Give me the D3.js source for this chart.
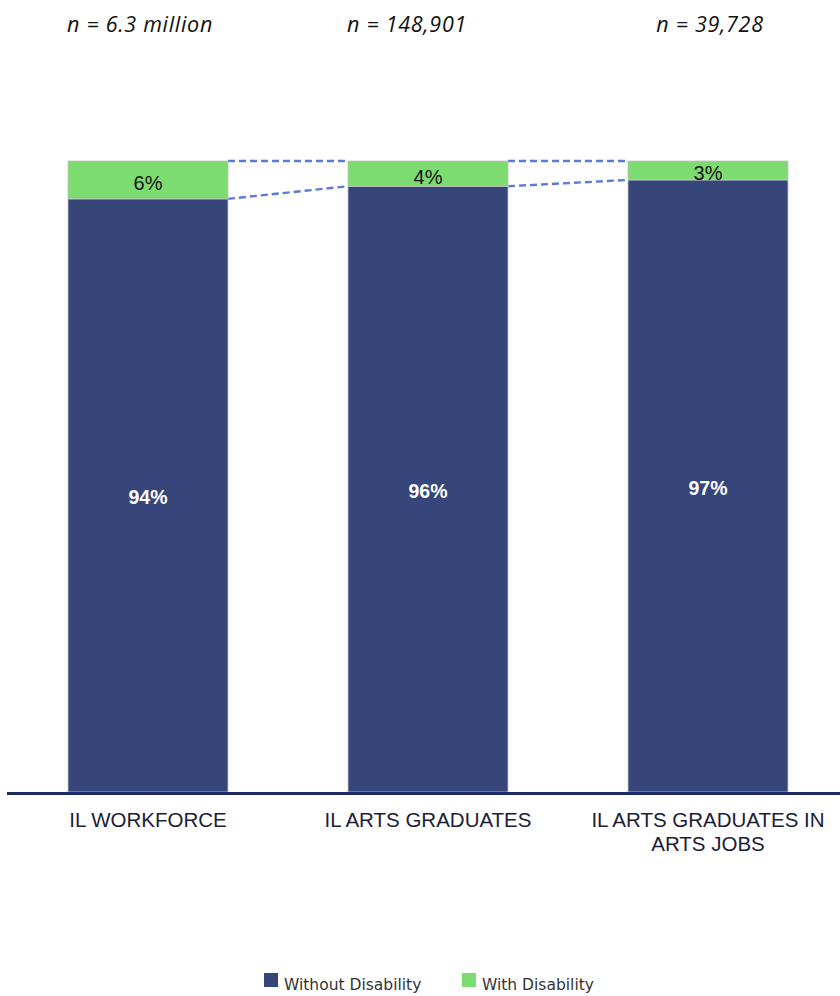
<!DOCTYPE html>
<html>
<head>
<meta charset="utf-8">
<script src="https://cdn.jsdelivr.net/npm/d3@7"></script>
<style>
  html, body { margin: 0; padding: 0; background: #fff; }
  svg { display: block; }
</style>
</head>
<body>
<svg id="chart" width="840" height="996"></svg>
<script>
// Share of workers with and without a disability, by group
const categories = ["IL WORKFORCE", "IL ARTS GRADUATES", "IL ARTS GRADUATES IN ARTS JOBS"];
const categoryLines = [["IL WORKFORCE"], ["IL ARTS GRADUATES"], ["IL ARTS GRADUATES IN", "ARTS JOBS"]];
const sampleSizes = ["n = 6.3 million", "n = 148,901", "n = 39,728"];
const withoutDisability = [94, 96, 97];
const withDisability = [6, 4, 3];
const seriesNames = ["Without Disability", "With Disability"];

const colors = { without: "#36457a", with: "#7ddc6f", link: "#5b7bd6", axis: "#1f2b63" };

const svg = d3.select("#chart");

const x = d3.scaleBand()
  .domain(categories)
  .range([68, 788])
  .paddingInner(120 / 280)
  .paddingOuter(0);

const y = d3.scaleLinear().domain([0, 100]).range([792, 161]);

const rows = categories.map((c, i) => ({
  cat: c,
  without: withoutDisability[i],
  with: withDisability[i],
  n: sampleSizes[i],
  lines: categoryLines[i]
}));

const stack = d3.stack().keys(["without", "with"])(rows);

// dashed connectors between neighbouring bars
const links = svg.append("g")
  .attr("fill", "none")
  .attr("stroke", colors.link)
  .attr("stroke-width", 2.4)
  .attr("stroke-dasharray", "7,4");
for (let i = 0; i < rows.length - 1; i++) {
  const x0 = x(rows[i].cat) + x.bandwidth();
  const x1 = x(rows[i + 1].cat);
  links.append("line")
    .attr("x1", x0).attr("x2", x1)
    .attr("y1", y(100)).attr("y2", y(100));
  links.append("line")
    .attr("x1", x0).attr("x2", x1)
    .attr("y1", y(rows[i].without)).attr("y2", y(rows[i + 1].without));
}

// stacked bars
const layers = svg.append("g").selectAll("g")
  .data(stack)
  .join("g")
  .attr("fill", d => d.key === "without" ? colors.without : colors.with);

layers.selectAll("rect")
  .data(d => d)
  .join("rect")
  .attr("x", d => x(d.data.cat))
  .attr("width", x.bandwidth())
  .attr("y", d => y(d[1]))
  .attr("height", d => y(d[0]) - y(d[1]))
  .attr("stroke", "#c4c4c4")
  .attr("stroke-width", 0.8);

// value labels
const labelFont = "'Liberation Sans', Arial, sans-serif";
svg.append("g").selectAll("text")
  .data(rows)
  .join("text")
  .attr("x", d => x(d.cat) + x.bandwidth() / 2)
  .attr("y", d => y(d.without / 2))
  .attr("dy", "0.45em")
  .attr("text-anchor", "middle")
  .attr("fill", "#ffffff")
  .attr("font-family", labelFont)
  .attr("font-weight", "bold")
  .attr("font-size", 19.5)
  .text(d => d.without + "%");

svg.append("g").selectAll("text")
  .data(rows)
  .join("text")
  .attr("x", d => x(d.cat) + x.bandwidth() / 2)
  .attr("y", d => y(d.without + d.with / 2))
  .attr("dy", "0.5em")
  .attr("text-anchor", "middle")
  .attr("fill", "#111")
  .attr("font-family", labelFont)
  .attr("font-size", 20)
  .text(d => d.with + "%");

// baseline axis
svg.append("line")
  .attr("x1", 7).attr("x2", 840)
  .attr("y1", y(0) + 1.5).attr("y2", y(0) + 1.5)
  .attr("stroke", colors.axis)
  .attr("stroke-width", 3);

// category labels
const catText = svg.append("g").selectAll("text")
  .data(rows)
  .join("text")
  .attr("text-anchor", "middle")
  .attr("fill", "#1b2036")
  .attr("font-family", labelFont)
  .attr("font-size", 20.5)
  .attr("x", d => x(d.cat) + x.bandwidth() / 2)
  .attr("y", 827);
catText.selectAll("tspan")
  .data(d => d.lines.map(l => ({ l, cx: x(d.cat) + x.bandwidth() / 2 })))
  .join("tspan")
  .attr("x", d => d.cx)
  .attr("dy", (d, i) => i === 0 ? 0 : 24)
  .text(d => d.l);

// sample sizes above the bars
const nOffsets = [-8, -21, 2];
svg.append("g").selectAll("text")
  .data(rows)
  .join("text")
  .attr("x", (d, i) => x(d.cat) + x.bandwidth() / 2 + nOffsets[i])
  .attr("y", 32)
  .attr("text-anchor", "middle")
  .attr("fill", "#111")
  .attr("font-family", "'Open Sans', sans-serif")
  .attr("font-style", "italic")
  .attr("font-size", 21.5)
  .attr("letter-spacing", 0.7)
  .text(d => d.n);

// legend
const legend = svg.append("g")
  .attr("font-family", "'DejaVu Sans', sans-serif")
  .attr("font-size", 15.5)
  .attr("fill", "#333");
const legendItems = [
  { name: seriesNames[0], color: colors.without, x: 264 },
  { name: seriesNames[1], color: colors.with, x: 462 }
];
const li = legend.selectAll("g").data(legendItems).join("g")
  .attr("transform", d => `translate(${d.x},973)`);
li.append("rect").attr("width", 14).attr("height", 14).attr("fill", d => d.color);
li.append("text").attr("x", 20).attr("y", 17).text(d => d.name);
</script>
</body>
</html>
